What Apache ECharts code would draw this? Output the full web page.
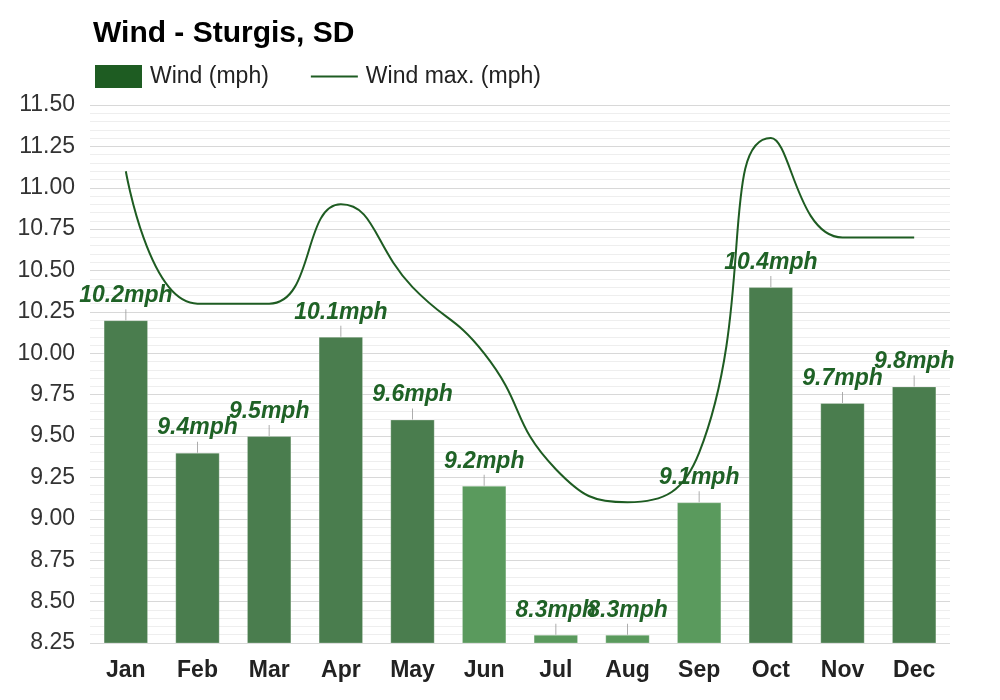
<!DOCTYPE html>
<html>
<head>
<meta charset="utf-8">
<script src="https://cdn.jsdelivr.net/npm/echarts@6/dist/echarts.min.js"></script>
<style>html,body{margin:0;padding:0;background:#fff}#c{width:1000px;height:700px}</style>
</head>
<body>
<div id="c"></div>
<script>
const months = ['Jan','Feb','Mar','Apr','May','Jun','Jul','Aug','Sep','Oct','Nov','Dec'];
const windAvg = [10.2, 9.4, 9.5, 10.1, 9.6, 9.2, 8.3, 8.3, 9.1, 10.4, 9.7, 9.8];
const windMax = [11.1, 10.3, 10.3, 10.9, 10.4, 10.0, 9.3, 9.1, 9.4, 11.3, 10.7, 10.7];
const yMin = 8.25, yMax = 11.5, yStep = 0.25;

const DARK = '#4a7d4e', LIGHT = '#5a9a5d', LEGEND = '#1e5c22', LABEL = '#1f6226';
const font = 'Liberation Sans, Arial, sans-serif';

const chart = echarts.init(document.getElementById('c'), null, {renderer: 'canvas'});
chart.setOption({
  animation: false,
  backgroundColor: '#fff',
  title: {
    text: 'Wind - Sturgis, SD', left: 88, top: 14,
    textStyle: {fontFamily: font, fontSize: 30, fontWeight: 'bold', color: '#000'}
  },
  legend: {
    left: 90, top: 60, itemGap: 42, itemWidth: 47, itemHeight: 23,
    textStyle: {fontFamily: font, fontSize: 23, color: '#222', padding: [0,0,0,3]},
    data: [
      {name: 'Wind (mph)', icon: 'rect', itemStyle: {color: LEGEND, borderWidth: 0}},
      {name: 'Wind max. (mph)', icon: 'path://M0,0 L42,0 L42,2 L0,2 Z', itemStyle: {color: LEGEND}}
    ]
  },
  grid: {left: 90, right: 50, top: 105, bottom: 57},
  xAxis: {
    type: 'category', data: months,
    axisLine: {show: false}, axisTick: {show: false},
    axisLabel: {fontFamily: font, fontSize: 23, fontWeight: 'bold', color: '#222', margin: 16}
  },
  yAxis: {
    type: 'value', min: yMin, max: yMax, interval: yStep,
    axisLine: {show: false}, axisTick: {show: false},
    axisLabel: {fontFamily: font, fontSize: 23, color: '#333', margin: 15,
      formatter: v => v.toFixed(2)},
    splitLine: {lineStyle: {color: '#d8d8d8', width: 1}},
    minorTick: {show: false, splitNumber: 5},
    minorSplitLine: {show: true, lineStyle: {color: '#eeeeee', width: 1}}
  },
  series: [
    {
      name: 'Wind (mph)', type: 'bar', data: windAvg, barWidth: '62%', z: 2,
      itemStyle: {
        color: p => p.value < 9.3 ? LIGHT : DARK,
        borderColor: 'rgba(255,255,255,0.25)', borderWidth: 1
      },
      label: {
        show: true, position: 'top', distance: 13,
        formatter: p => p.value + 'mph',
        fontFamily: font, fontSize: 23, fontWeight: 'bold', fontStyle: 'italic', color: LABEL
      }
    },
    {
      name: 'tick', type: 'scatter', data: windAvg, silent: true, z: 3,
      symbol: 'rect', symbolSize: [1, 11], symbolOffset: [0, -5.5],
      itemStyle: {color: '#999'}, tooltip: {show: false}
    },
    {
      name: 'Wind max. (mph)', type: 'line', data: windMax, smooth: 0.5, z: 4,
      symbol: 'none', lineStyle: {color: LEGEND, width: 2}, itemStyle: {color: LEGEND}
    }
  ]
});
</script>
</body>
</html>
